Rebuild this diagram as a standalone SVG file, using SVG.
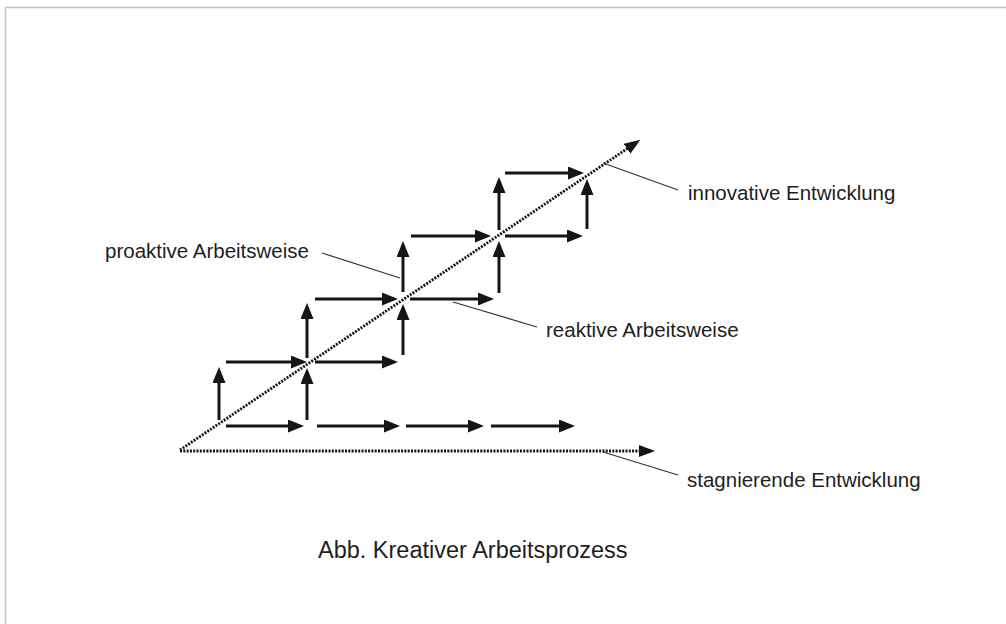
<svg xmlns="http://www.w3.org/2000/svg" width="1006" height="624" viewBox="0 0 1006 624">
  <style>
    .frame { fill: none; stroke: #c4c4c4; stroke-width: 1.5; }
    .step { stroke: #151515; stroke-width: 3; fill: none; marker-end: url(#head); }
    .trend { stroke: #141414; stroke-width: 2.8; stroke-dasharray: 2 1.3; fill: none; marker-end: url(#headTrend); }
    .leader { stroke: #333; stroke-width: 1.2; fill: none; }
    .label { font-family: "Liberation Sans", Arial, sans-serif; font-size: 20.5px; fill: #1e1e1e; }
    .caption { font-family: "Liberation Sans", Arial, sans-serif; font-size: 23.5px; fill: #1e1e1e; }
  </style>
  <defs>
    <marker id="head" markerUnits="userSpaceOnUse" markerWidth="16" markerHeight="13" refX="12" refY="6.5" orient="auto">
      <path d="M0,0 L16,6.5 L0,13 z" fill="#151515"/>
    </marker>
    <marker id="headTrend" markerUnits="userSpaceOnUse" markerWidth="16" markerHeight="12" refX="12" refY="6" orient="auto">
      <path d="M0,0 L16,6 L0,12 z" fill="#141414"/>
    </marker>
  </defs>

  <rect width="1006" height="624" fill="#ffffff"/>
  <path class="frame" d="M5.5,624 V7.5 H1006"/>

  <g id="connectors">
    <!-- trend lines -->
    <line id="trend-innovative" class="trend" x1="180" y1="450" x2="637" y2="142"/>
    <line id="trend-stagnating" class="trend" x1="180" y1="451" x2="651" y2="451"/>

    <!-- horizontal steps -->
    <line class="step" x1="226" y1="426" x2="300" y2="426"/>
    <line class="step" x1="317" y1="426" x2="396" y2="426"/>
    <line class="step" x1="406" y1="426" x2="480" y2="426"/>
    <line class="step" x1="491" y1="426" x2="571" y2="426"/>

    <line class="step" x1="226" y1="362" x2="303" y2="362"/>
    <line class="step" x1="315" y1="362" x2="394" y2="362"/>

    <line class="step" x1="315" y1="299" x2="394" y2="299"/>
    <line class="step" x1="410" y1="299" x2="490" y2="299"/>

    <line class="step" x1="411" y1="236" x2="487" y2="236"/>
    <line class="step" x1="505" y1="236" x2="579" y2="236"/>

    <line class="step" x1="505" y1="173" x2="580" y2="173"/>

    <!-- vertical steps -->
    <line class="step" x1="219" y1="420" x2="219" y2="371"/>
    <line class="step" x1="307" y1="420" x2="307" y2="372"/>
    <line class="step" x1="307" y1="358" x2="307" y2="307"/>
    <line class="step" x1="403" y1="355" x2="403" y2="308"/>
    <line class="step" x1="403" y1="292" x2="403" y2="245"/>
    <line class="step" x1="499" y1="293" x2="499" y2="245"/>
    <line class="step" x1="499" y1="230" x2="499" y2="181"/>
    <line class="step" x1="587" y1="229" x2="587" y2="183"/>

    <!-- label leaders -->
    <polyline class="leader" points="322,253 400,278"/>
    <polyline class="leader" points="453,302 537,327"/>
    <polyline class="leader" points="603,163 678,190"/>
    <polyline class="leader" points="603,452 678,475"/>
  </g>

  <g id="label-proaktiv">
    <text class="label" x="105" y="258">proaktive Arbeitsweise</text>
  </g>
  <g id="label-reaktiv">
    <text class="label" x="546" y="337">reaktive Arbeitsweise</text>
  </g>
  <g id="label-innovativ">
    <text class="label" x="688" y="200">innovative Entwicklung</text>
  </g>
  <g id="label-stagnierend">
    <text class="label" x="687" y="487">stagnierende Entwicklung</text>
  </g>
  <g id="caption">
    <text class="caption" x="318" y="558">Abb. Kreativer Arbeitsprozess</text>
  </g>
</svg>
